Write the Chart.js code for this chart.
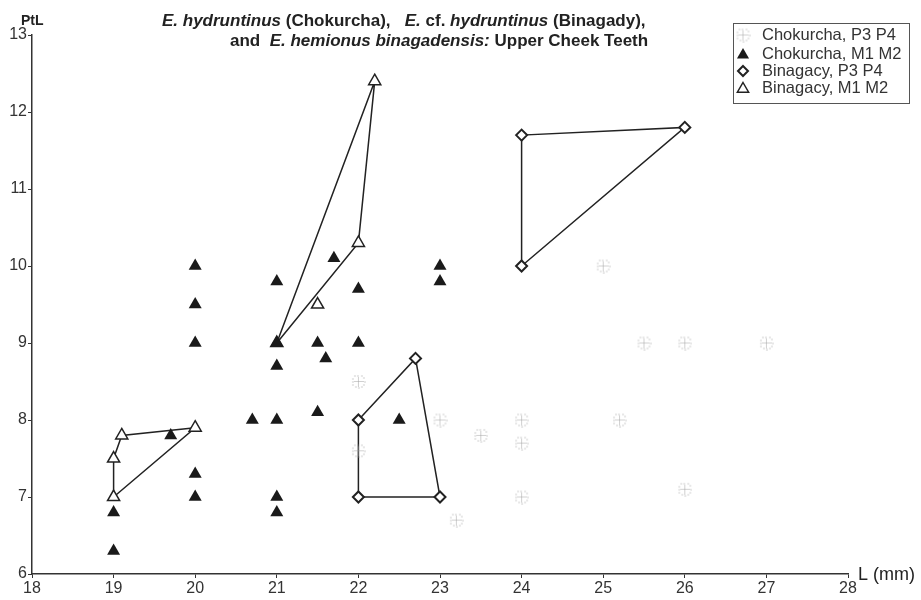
<!DOCTYPE html>
<html>
<head>
<meta charset="utf-8">
<script src="https://cdn.jsdelivr.net/npm/chart.js@4/dist/chart.umd.min.js"></script>
<style>
  body { margin: 0; background: #fff; }
  #wrap { width: 921px; height: 600px; }
</style>
</head>
<body>
<div id="wrap"><canvas id="chart" width="921" height="600"></canvas></div>
<script>
// values: [L (mm), PtL]
const chokurchaP3P4 = [
    [22, 8.5], [22, 7.6], [23, 8.0], [23.5, 7.8], [24, 8.0], [24, 7.7], [25.2, 8.0],
    [24, 7.0], [23.2, 6.7], [26, 7.1], [25, 10.0], [25.5, 9.0], [26, 9.0], [27, 9.0]
];
const chokurchaM1M2 = [
    [19, 6.8], [19, 6.3], [19.7, 7.8], [20, 7.3], [20, 7.0], [20, 9.0], [20, 9.5], [20, 10.0],
    [20.7, 8.0], [21, 9.8], [21, 9.0], [21, 8.7], [21, 8.0], [21, 7.0], [21, 6.8],
    [21.5, 9.0], [21.6, 8.8], [21.5, 8.1], [21.7, 10.1], [22, 9.7], [22, 9.0], [22.5, 8.0],
    [23, 10.0], [23, 9.8]
];
const binagadyP3P4 = [
    [22, 8.0], [22.7, 8.8], [23, 7.0], [22, 7.0], [24, 10.0], [24, 11.7], [26, 11.8]
];
const binagadyM1M2 = [
    [19, 7.0], [19, 7.5], [19.1, 7.8], [20, 7.9], [21, 9.0], [22.2, 12.4], [22, 10.3], [21.5, 9.5]
];
// outlines drawn round the Binagady groups
const hullM1M2a = [[19, 7.0], [19, 7.5], [19.1, 7.8], [20, 7.9], [19, 7.0]];
const hullM1M2b = [[21, 9.0], [22.2, 12.4], [22, 10.3], [21, 9.0]];
const hullP3P4a = [[22, 8.0], [22.7, 8.8], [23, 7.0], [22, 7.0], [22, 8.0]];
const hullP3P4b = [[24, 10.0], [24, 11.7], [26, 11.8], [24, 10.0]];

const legendLabels = ['Chokurcha, P3 P4', 'Chokurcha, M1 M2', 'Binagacy, P3 P4', 'Binagacy, M1 M2'];
const xTicks = [18, 28];
const yTicks = [6, 13];

const FONT = '"Liberation Sans", Arial, sans-serif';
const INK = '#222';

const pts = arr => arr.map(p => ({ x: p[0], y: p[1] }));

// faint dotted marker used for Chokurcha P3 P4
function dottedMarker(size) {
    const c = document.createElement('canvas');
    c.width = c.height = size;
    const g = c.getContext('2d');
    g.fillStyle = '#a0a0a0';
    const m = size / 2, r = size / 2 - 1.5;
    for (let a = 0; a < 12; a++) {
        const t = a * Math.PI / 6;
        g.fillRect(Math.round(m + r * Math.cos(t)) - 0.5, Math.round(m + r * Math.sin(t)) - 0.5, 1, 1);
    }
    for (let d = -r + 2; d <= r - 2; d += 2) {
        g.fillRect(Math.round(m + d) - 0.5, m - 0.5, 1, 1);
        g.fillRect(m - 0.5, Math.round(m + d) - 0.5, 1, 1);
    }
    return c;
}
const grayMark = dottedMarker(15);

function hull(data) {
    return {
        data: pts(data),
        showLine: true,
        borderColor: INK,
        borderWidth: 1.5,
        pointRadius: 0,
        fill: false,
        tension: 0
    };
}

function drawTri(ctx, x, y, r, filled) {
    ctx.beginPath();
    ctx.moveTo(x, y - r);
    ctx.lineTo(x + r * 0.866, y + r * 0.5);
    ctx.lineTo(x - r * 0.866, y + r * 0.5);
    ctx.closePath();
    if (filled) { ctx.fillStyle = '#1a1a1a'; ctx.fill(); }
    else { ctx.fillStyle = '#fff'; ctx.fill(); ctx.lineWidth = 1.5; ctx.strokeStyle = INK; ctx.stroke(); }
}

function drawSegments(ctx, segs, x, y) {
    segs.forEach(s => {
        ctx.font = (s[1] ? 'italic ' : '') + 'bold 17px ' + FONT;
        ctx.fillText(s[0], x, y);
        x += ctx.measureText(s[0]).width;
    });
}

const decor = {
    id: 'decor',
    afterDraw(chart) {
        const ctx = chart.ctx;
        ctx.save();
        ctx.fillStyle = INK;
        ctx.textBaseline = 'alphabetic';
        ctx.textAlign = 'left';
        // title, two lines with italic species names
        drawSegments(ctx, [['E. hydruntinus', true], [' (Chokurcha),   ', false], ['E.', true],
            [' cf. ', false], ['hydruntinus', true], [' (Binagady),', false]], 162, 26);
        drawSegments(ctx, [['and  ', false], ['E. hemionus binagadensis:', true],
            [' Upper Cheek Teeth', false]], 230, 46);
        // axis names
        ctx.font = 'bold 14px ' + FONT;
        ctx.fillText('PtL', 21, 25);
        ctx.font = '18px ' + FONT;
        ctx.textBaseline = 'middle';
        ctx.fillText('L (mm)', 858, 575);
        // legend box
        ctx.strokeStyle = '#555';
        ctx.lineWidth = 1;
        ctx.strokeRect(733.5, 23.5, 176, 80);
        const rows = [35, 54, 71, 88];
        ctx.font = '16.5px ' + FONT;
        legendLabels.forEach((t, i) => {
            const y = rows[i], x = 743;
            if (i === 0) ctx.drawImage(grayMark, x - 7.5, y - 7.5);
            if (i === 1) drawTri(ctx, x, y + 1, 7, true);
            if (i === 2) {
                ctx.beginPath();
                ctx.moveTo(x, y - 5); ctx.lineTo(x + 5, y); ctx.lineTo(x, y + 5); ctx.lineTo(x - 5, y);
                ctx.closePath();
                ctx.fillStyle = '#fff'; ctx.fill();
                ctx.lineWidth = 2; ctx.strokeStyle = INK; ctx.stroke();
            }
            if (i === 3) drawTri(ctx, x, y + 1, 6.5, false);
            ctx.fillStyle = '#333';
            ctx.fillText(t, 762, y);
        });
        ctx.restore();
    }
};

const axisCommon = {
    type: 'linear',
    border: { color: '#333', width: 1.5 },
    grid: { drawOnChartArea: false, drawTicks: true, tickLength: 4, color: '#333', lineWidth: 1 },
    ticks: { stepSize: 1, color: '#333', font: { family: FONT, size: 16 }, padding: 1 }
};

new Chart(document.getElementById('chart'), {
    type: 'scatter',
    data: {
        datasets: [
            {
                data: pts(chokurchaM1M2),
                pointStyle: 'triangle',
                pointRadius: 7.5,
                backgroundColor: '#1a1a1a',
                borderColor: '#1a1a1a',
                borderWidth: 0
            },
            {
                data: pts(binagadyM1M2),
                pointStyle: 'triangle',
                pointRadius: 7,
                backgroundColor: '#fff',
                borderColor: INK,
                borderWidth: 1.5
            },
            {
                data: pts(binagadyP3P4),
                pointStyle: 'rectRot',
                pointRadius: 5.5,
                backgroundColor: '#fff',
                borderColor: INK,
                borderWidth: 2
            },
            {
                data: pts(chokurchaP3P4),
                pointStyle: grayMark
            },
            hull(hullM1M2a),
            hull(hullM1M2b),
            hull(hullP3P4a),
            hull(hullP3P4b)
        ]
    },
    options: {
        responsive: false,
        animation: false,
        layout: { padding: { left: 0, top: 35, right: 73, bottom: 0 } },
        plugins: {
            legend: { display: false },
            tooltip: { enabled: false }
        },
        scales: {
            x: Object.assign({}, axisCommon, {
                min: xTicks[0], max: xTicks[1],
                afterFit(s) { s.height = 26; }
            }),
            y: Object.assign({}, axisCommon, {
                min: yTicks[0], max: yTicks[1],
                afterFit(s) { s.width = 32; }
            })
        }
    },
    plugins: [decor]
});
</script>
</body>
</html>
